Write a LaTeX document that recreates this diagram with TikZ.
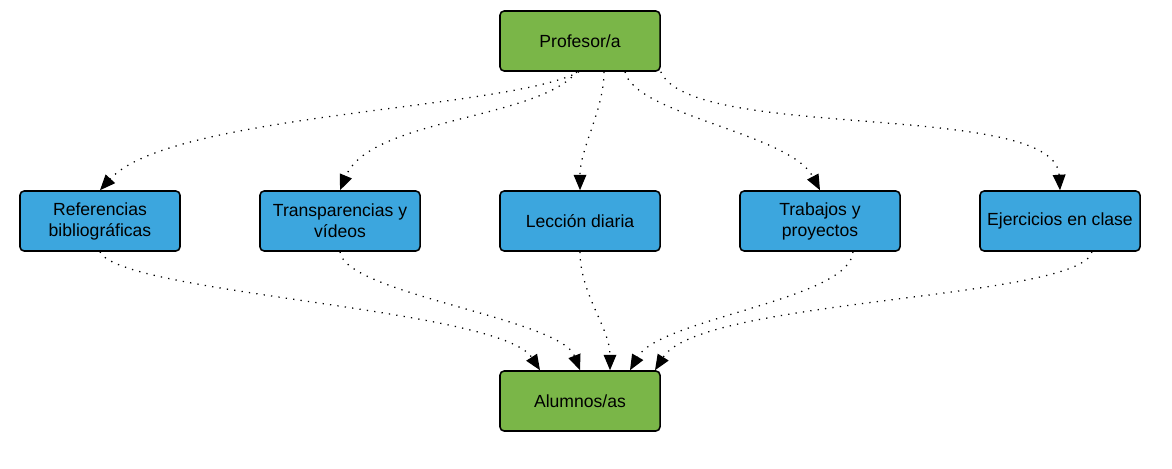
\documentclass[tikz,border=0pt]{standalone}
\usepackage{fontspec}
\setmainfont{Liberation Sans}
\usepackage{xcolor}
\usetikzlibrary{arrows.meta,positioning,calc}
\definecolor{boxgreen}{RGB}{122,182,72}
\definecolor{boxblue}{RGB}{60,166,222}
\tikzset{%
	person/.style   = {draw, line width=1.1pt, rectangle, rounded corners=3pt, fill=boxgreen, minimum width=4cm, minimum height=1.5cm, text centered, font=\fontsize{12.5}{15}\selectfont},
	resource/.style = {draw, line width=1.1pt, rectangle, rounded corners=3pt, fill=boxblue, minimum width=4cm, minimum height=1.5cm, align=center, font=\fontsize{12.5}{15}\selectfont},
	arrow/.style    = {line width=0.9pt, dash pattern=on 0.9pt off 4.4pt, -{Triangle[length=11pt,width=9pt]}},
}
\begin{document}
\begin{tikzpicture}[x=0.025cm,y=-0.025cm]
	\useasboundingbox (0,0) rectangle (1172,468);
	
	\node[person] (prof) at (580,41) {Profesor/a};
	\node[resource] (refs) at (100,221) {Referencias\\bibliográficas};
	\node[resource] (trans) at (340,221) {Transparencias y\\vídeos};
	\node[resource] (lecc) at (580,221) {Lección diaria};
	\node[resource] (trab) at (820,221) {Trabajos y\\proyectos};
	\node[resource] (ejer) at (1060,221) {Ejercicios en clase};
	\node[person] (alum) at (580,401) {Alumnos/as};
	
	% profesor/a -> recursos
	\draw[arrow] ($(prof.south)+(-1,0)$) .. controls +(-70,38) and +(70,-77) .. (refs.north);
	\draw[arrow] ($(prof.south)+(-3,0)$) .. controls +(-40,48) and +(30,-72) .. (trans.north);
	\draw[arrow] ($(prof.south)+(24,0)$) .. controls +(0,38) and +(0,-42) .. (lecc.north);
	\draw[arrow] ($(prof.south)+(45,0)$) .. controls +(10,43) and +(-30,-57) .. (trab.north);
	\draw[arrow] (prof.south east) .. controls +(30,70) and +(-5,-90) .. (ejer.north);
	
	% recursos -> alumnos/as
	\draw[arrow] (refs.south) .. controls +(20,42) and +(-40,-62) .. ($(alum.north)+(-40,0)$);
	\draw[arrow] (trans.south) .. controls +(5,42) and +(-20,-52) .. (alum.north);
	\draw[arrow] (lecc.south) .. controls +(0,42) and +(0,-42) .. ($(alum.north)+(30,0)$);
	\draw[arrow] ($(trab.south)+(33,0)$) .. controls +(-3,48) and +(30,-52) .. ($(alum.north)+(50,0)$);
	\draw[arrow] ($(ejer.south)+(32,0)$) .. controls +(-12,48) and +(45,-72) .. ($(alum.north)+(75,0)$);
\end{tikzpicture}
\end{document}
